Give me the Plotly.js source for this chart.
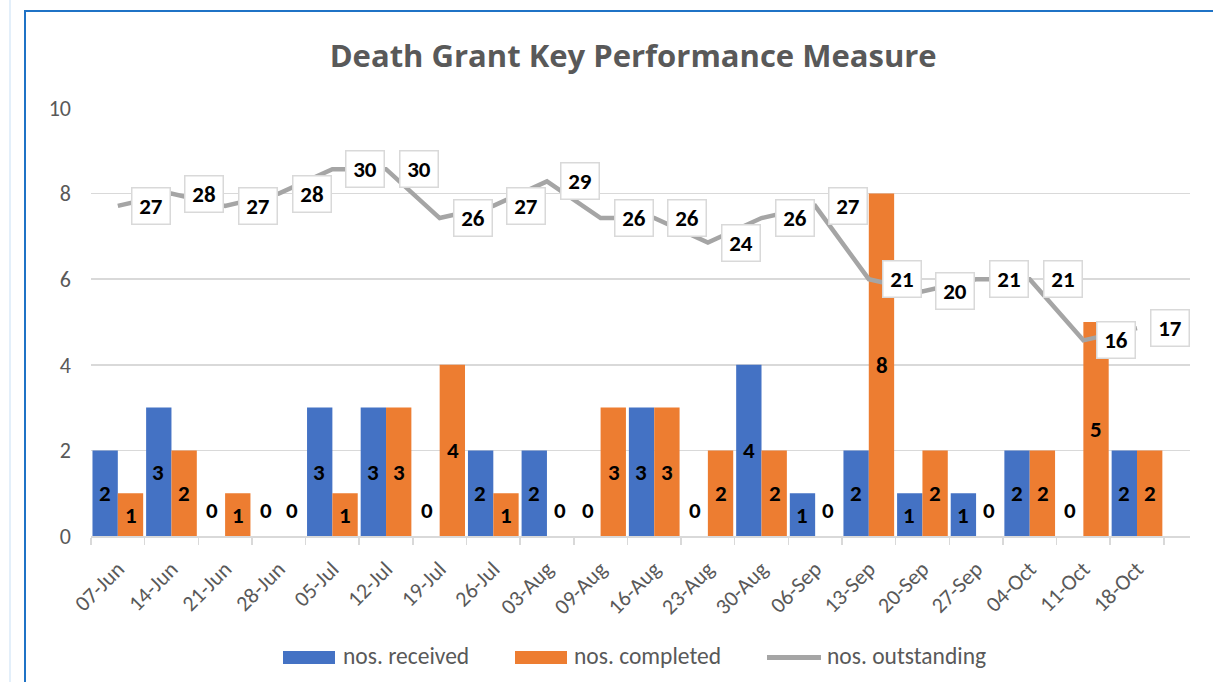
<!DOCTYPE html>
<html>
<head>
<meta charset="utf-8">
<script src="https://cdn.plot.ly/plotly-3.0.1.min.js"></script>
<style>
  html, body { margin: 0; padding: 0; background: #fff; }
  #wrap { position: relative; width: 1213px; height: 682px; overflow: hidden; }
  #chart { width: 1213px; height: 682px; }
  #frame { position: absolute; left: 24px; top: 10px; width: 1300px; height: 800px;
           border: 2px solid #1f73c6; pointer-events: none; }
  #faint { position: absolute; left: 9px; top: 0; width: 2px; height: 682px;
           background: #e3effa; pointer-events: none; }
</style>
</head>
<body>
<div id="wrap">
  <div id="chart"></div>
  <div id="faint"></div>
  <div id="frame"></div>
</div>
<script>
const categories = ['07-Jun','14-Jun','21-Jun','28-Jun','05-Jul','12-Jul','19-Jul','26-Jul','03-Aug','09-Aug',
                    '16-Aug','23-Aug','30-Aug','06-Sep','13-Sep','20-Sep','27-Sep','04-Oct','11-Oct','18-Oct'];
const received    = [2,3,0,0,3,3,0,2,2,0,3,0,4,1,2,1,1,2,0,2];
const completed   = [1,2,1,0,1,3,4,1,0,3,3,2,2,0,8,2,0,2,5,2];
const outstanding = [27,28,27,28,30,30,26,27,29,26,26,24,26,27,21,20,21,21,16,17];
const seriesNames = ['nos. received', 'nos. completed', 'nos. outstanding'];
const seriesColors = ['#4472C4', '#ED7D31', '#A5A5A5'];

const GRAY = '#595959';
const calibri = "Carlito, Calibri, 'Liberation Sans', Arial, sans-serif";
const labelFont = { family: calibri, size: 23, color: '#000', weight: 'bold' };

// plot area in pixels (for legend placement in paper coords)
const W = 1213, H = 682, ML = 91, MR = 23, MT = 108, MB = 146;
const PW = W - ML - MR, PH = H - MT - MB;
const px = v => (v - ML) / PW;
const py = v => (H - MB - v) / PH;

const traces = [
  {
    type: 'bar', name: seriesNames[0], x: categories, y: received,
    marker: { color: seriesColors[0] }, showlegend: false
  },
  {
    type: 'bar', name: seriesNames[1], x: categories, y: completed,
    marker: { color: seriesColors[1] }, showlegend: false
  },
  {
    type: 'scatter', mode: 'lines', name: seriesNames[2], x: categories, y: outstanding,
    yaxis: 'y2', line: { color: seriesColors[2], width: 4.5 }, cliponaxis: false, showlegend: false
  }
];

const annotations = [];
// bar value labels (centred in the bar; zero values sit just above the axis)
[[received, -13], [completed, 13]].forEach(([vals, shift]) => {
  vals.forEach((v, i) => {
    annotations.push({ x: categories[i], y: v > 0 ? v / 2 : 0.6, xref: 'x', yref: 'y', text: String(v),
      showarrow: false, xshift: shift, yanchor: 'middle', font: labelFont });
  });
});
// line labels in boxes
outstanding.forEach((v, i) => {
  annotations.push({ x: categories[i], y: v, xref: 'x', yref: 'y2', text: String(v),
    showarrow: false, xanchor: 'left', yanchor: 'middle', xshift: 13,
    bgcolor: '#ffffff', bordercolor: '#d9d9d9', borderwidth: 1.5, borderpad: 5,
    width: 27, height: 25, font: labelFont });
});

// legend (drawn as shapes + text, Excel style)
const legendY = 657.5;
const legendItems = [
  { sx0: 283, sx1: 335, tx: 341, kind: 'rect' },
  { sx0: 515, sx1: 567, tx: 572, kind: 'rect' },
  { sx0: 767, sx1: 821, tx: 825, kind: 'line' }
];
const shapes = [];
legendItems.forEach((it, k) => {
  if (it.kind === 'rect') {
    shapes.push({ type: 'rect', xref: 'paper', yref: 'paper', x0: px(it.sx0), x1: px(it.sx1),
      y0: py(legendY + 6.5), y1: py(legendY - 6.5), fillcolor: seriesColors[k], line: { width: 0 } });
  } else {
    shapes.push({ type: 'line', xref: 'paper', yref: 'paper', x0: px(it.sx0), x1: px(it.sx1),
      y0: py(legendY), y1: py(legendY), line: { color: seriesColors[k], width: 5 } });
  }
  annotations.push({ xref: 'paper', yref: 'paper', x: px(it.tx), y: py(legendY - 1.5),
    xanchor: 'left', yanchor: 'middle', showarrow: false, text: seriesNames[k],
    font: { family: calibri, size: 23.5, color: GRAY } });
});

const layout = {
  width: W, height: H,
  margin: { l: ML, r: MR, t: MT, b: MB },
  paper_bgcolor: '#ffffff', plot_bgcolor: '#ffffff',
  barmode: 'group', bargap: 0.055, bargroupgap: 0,
  title: { text: 'Death Grant Key Performance Measure', x: 0.522, xanchor: 'center', y: 0.918, yanchor: 'middle',
           font: { family: "'Open Sans', sans-serif", size: 31, color: GRAY, weight: 'bold' } },
  xaxis: {
    type: 'category', showgrid: false, showline: true, linecolor: '#d9d9d9', linewidth: 1.5,
    ticks: 'outside', tickson: 'boundaries', ticklen: 7, tickcolor: '#d9d9d9', tickwidth: 1.5,
    tickangle: -45, ticklabelstandoff: 10, tickfont: { family: calibri, size: 22, color: GRAY }
  },
  yaxis: {
    range: [0, 10], dtick: 2, showgrid: true, gridcolor: '#d9d9d9', gridwidth: 1.5,
    zeroline: false, showline: false, ticks: '', ticklabelstandoff: 19,
    tickfont: { family: calibri, size: 22, color: GRAY }
  },
  yaxis2: { range: [0, 35], overlaying: 'y', side: 'right', visible: false, showgrid: false },
  annotations: annotations,
  shapes: shapes,
  showlegend: false
};

Plotly.newPlot('chart', traces, layout, { displayModeBar: false, staticPlot: true });
</script>
</body>
</html>
